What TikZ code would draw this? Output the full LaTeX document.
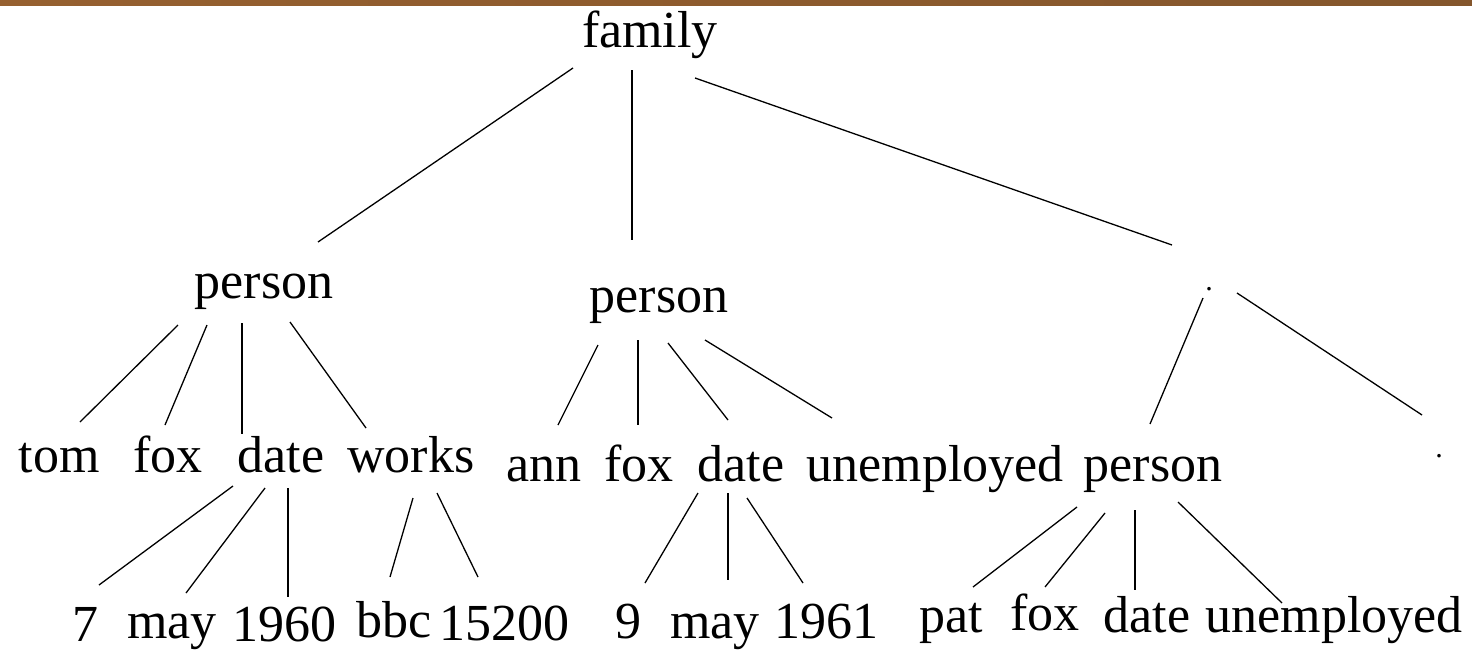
\documentclass[tikz,border=0pt]{standalone}
\usepackage{fontspec}
\setmainfont{Liberation Serif}
\usepackage{xcolor}
\definecolor{barleft}{RGB}{150,96,48}
\definecolor{barmid}{RGB}{98,68,36}
\definecolor{barright}{RGB}{132,86,44}

\begin{document}
\begin{tikzpicture}[x=1pt, y=-1pt, lbl/.style={anchor=base, inner sep=0pt, font=\fontsize{52}{60}\selectfont},
    stop/.style={lbl, font=\fontsize{30}{36}\selectfont},
    edge/.style={line width=1.3pt}, stem/.style={line width=2.4pt}]
    \useasboundingbox (0,0) rectangle (1472,653);
    \shade[left color=barleft, middle color=barmid, right color=barright] (0,0) rectangle (1472,5);

    \node[lbl] (family) at (650,47) {family};

    \node[lbl] (person1) at (264,298) {person};
    \node[lbl] (person2) at (659,312) {person};
    \node[stop] (list1) at (1209,290) {.};

    \node[lbl] (tom) at (59,472) {tom};
    \node[lbl] (fox1) at (168,472) {fox};
    \node[lbl] (date1) at (281,472) {date};
    \node[lbl] (works) at (411,472) {works};
    \node[lbl] (ann) at (544,481) {ann};
    \node[lbl] (fox2) at (639,481) {fox};
    \node[lbl] (date2) at (741,481) {date};
    \node[lbl] (unemp1) at (935,481) {unemployed};
    \node[lbl] (person3) at (1153,481) {person};
    \node[stop] (list2) at (1439,457) {.};

    \node[lbl] (day1) at (85,641) {7};
    \node[lbl] (month1) at (172,638) {may};
    \node[lbl] (year1) at (284,641) {1960};
    \node[lbl] (bbc) at (394,637) {bbc};
    \node[lbl] (salary) at (504,640) {15200};
    \node[lbl] (day2) at (628,638) {9};
    \node[lbl] (month2) at (715,638) {may};
    \node[lbl] (year2) at (826,638) {1961};
    \node[lbl] (pat) at (951,632) {pat};
    \node[lbl] (fox3) at (1045,630) {fox};
    \node[lbl] (date3) at (1147,632) {date};
    \node[lbl] (unemp2) at (1334,632) {unemployed};

    \draw[edge] ([shift={(-77,21)}]family.base) -- ([shift={(54,-56)}]person1.base);
    \draw[stem] ([shift={(-18,23)}]family.base) -- ([shift={(-27,-72)}]person2.base);
    \draw[edge] ([shift={(45,31)}]family.base) -- ([shift={(-37,-45)}]list1.base);

    \draw[edge] ([shift={(-86,27)}]person1.base) -- ([shift={(21,-50)}]tom.base);
    \draw[edge] ([shift={(-57,27)}]person1.base) -- ([shift={(-3,-47)}]fox1.base);
    \draw[stem] ([shift={(-22,25)}]person1.base) -- ([shift={(-39,-38)}]date1.base);
    \draw[edge] ([shift={(26,24)}]person1.base) -- ([shift={(-45,-44)}]works.base);

    \draw[edge] ([shift={(-61,33)}]person2.base) -- ([shift={(14,-56)}]ann.base);
    \draw[stem] ([shift={(-21,28)}]person2.base) -- ([shift={(-1,-56)}]fox2.base);
    \draw[edge] ([shift={(9,31)}]person2.base) -- ([shift={(-13,-61)}]date2.base);
    \draw[edge] ([shift={(46,28)}]person2.base) -- ([shift={(-103,-63)}]unemp1.base);

    \draw[edge] ([shift={(-6,8)}]list1.base) -- ([shift={(-3,-57)}]person3.base);
    \draw[edge] ([shift={(28,3)}]list1.base) -- ([shift={(-17,-42)}]list2.base);

    \draw[edge] ([shift={(-48,14)}]date1.base) -- ([shift={(14,-56)}]day1.base);
    \draw[edge] ([shift={(-16,16)}]date1.base) -- ([shift={(14,-45)}]month1.base);
    \draw[stem] ([shift={(7,16)}]date1.base) -- ([shift={(4,-44)}]year1.base);

    \draw[edge] ([shift={(2,26)}]works.base) -- ([shift={(-4,-60)}]bbc.base);
    \draw[edge] ([shift={(26,21)}]works.base) -- ([shift={(-26,-63)}]salary.base);

    \draw[edge] ([shift={(-43,12)}]date2.base) -- ([shift={(17,-55)}]day2.base);
    \draw[stem] ([shift={(-13,12)}]date2.base) -- ([shift={(13,-58)}]month2.base);
    \draw[edge] ([shift={(6,17)}]date2.base) -- ([shift={(-23,-55)}]year2.base);

    \draw[edge] ([shift={(-76,26)}]person3.base) -- ([shift={(22,-45)}]pat.base);
    \draw[edge] ([shift={(-48,32)}]person3.base) -- ([shift={(0,-43)}]fox3.base);
    \draw[stem] ([shift={(-18,29)}]person3.base) -- ([shift={(-12,-42)}]date3.base);
    \draw[edge] ([shift={(25,21)}]person3.base) -- ([shift={(-52,-29)}]unemp2.base);
\end{tikzpicture}
\end{document}
